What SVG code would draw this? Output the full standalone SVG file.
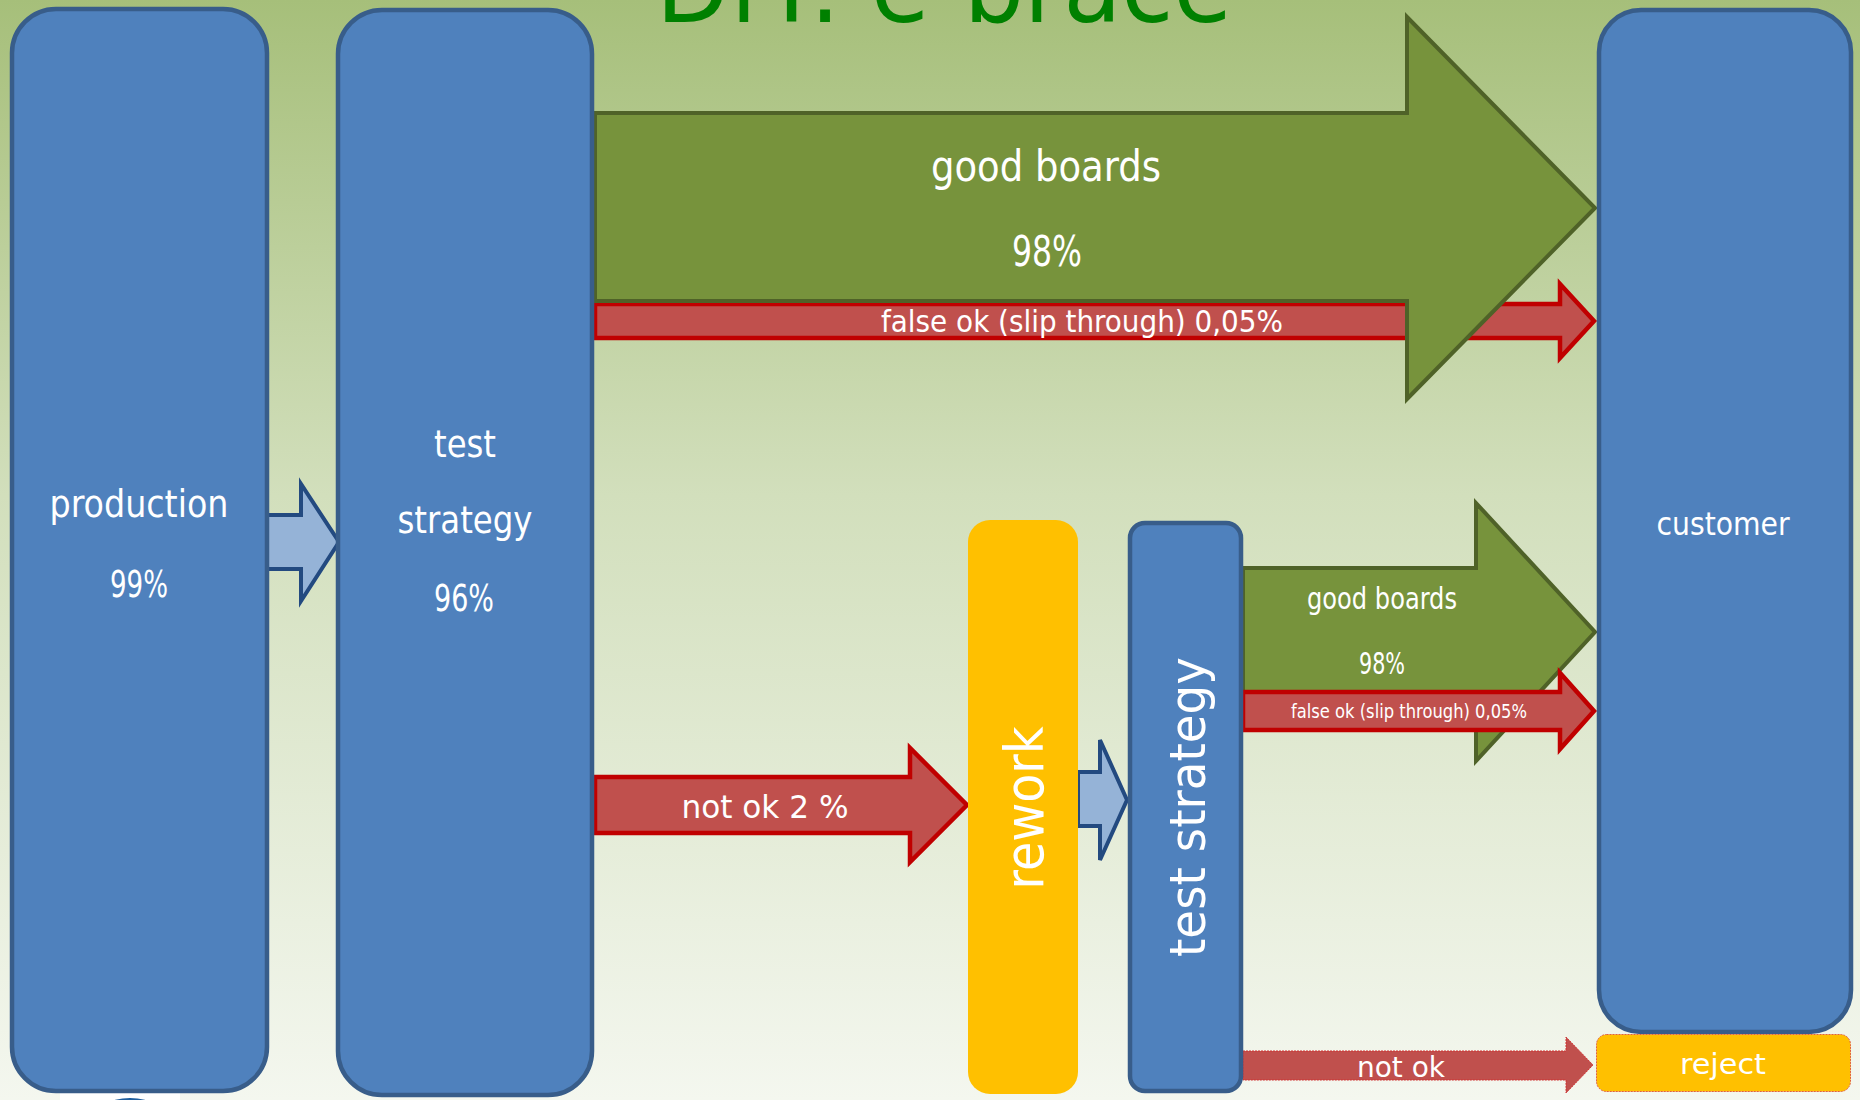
<svg xmlns="http://www.w3.org/2000/svg" width="1860" height="1100" viewBox="0 0 1860 1100">
<defs>
<linearGradient id="bg" x1="0" y1="0" x2="0" y2="1">
<stop offset="0" stop-color="#a6bf7a"/>
<stop offset="0.45" stop-color="#d2dfbc"/>
<stop offset="1" stop-color="#f4f7ef"/>
</linearGradient>
<clipPath id="logoclip"><rect x="60" y="1093" width="120" height="7"/></clipPath>
</defs>
<style>
.box{fill:#4f81bd;stroke:#385d8a;stroke-width:4.5}
.t{font-family:"DejaVu Sans Condensed","DejaVu Sans",sans-serif;font-stretch:condensed;fill:#ffffff;text-anchor:middle}
.green{fill:#77933c;stroke:#4f6228;stroke-width:4;stroke-linejoin:miter}
.red{fill:#c0504d;stroke:#c00000;stroke-width:4.5;stroke-linejoin:miter}
.redthin{fill:#c0504d;stroke:#d03030;stroke-width:1;stroke-dasharray:2 1}
.blue{fill:#95b3d7;stroke:#234a80;stroke-width:4;stroke-linejoin:miter}
</style>
<rect x="0" y="0" width="1860" height="1100" fill="url(#bg)"/>
<text x="944" y="22" font-family="DejaVu Sans Condensed, DejaVu Sans, sans-serif" font-stretch="condensed" font-size="100" fill="#008000" text-anchor="middle" textLength="576" lengthAdjust="spacingAndGlyphs">DfT: e-brace</text>
<g id="logo" clip-path="url(#logoclip)">
<rect x="60" y="1093" width="120" height="7" fill="#ffffff"/>
<ellipse cx="130" cy="1122" rx="38" ry="24" fill="#1f5f9f"/>
</g>

<g id="connectors">
<path id="c-prod-test" class="blue" d="M265,515 L301,515 L301,484 L339,542 L301,601 L301,569 L265,569 Z"/>
<path id="c-falseok1" class="red" d="M595,304 L1560,304 L1560,284 L1594,321 L1560,358 L1560,338 L595,338 Z"/>
<path id="c-good1" class="green" d="M595,113 L1407,113 L1407,17 L1595,208 L1407,399 L1407,301 L595,301 Z"/>
<text class="t" x="1046" y="181" font-size="42" textLength="230" lengthAdjust="spacingAndGlyphs">good boards</text>
<text class="t" x="1047" y="266" font-size="42" textLength="70" lengthAdjust="spacingAndGlyphs">98%</text>
<text class="t" x="1082" y="332" font-size="30" textLength="402" lengthAdjust="spacingAndGlyphs">false ok (slip through) 0,05%</text>
<path id="c-notok2" class="red" d="M595,777 L910,777 L910,748 L967,805 L910,862 L910,833 L595,833 Z"/>
<text class="t" x="765" y="818" font-size="32" textLength="167" lengthAdjust="spacingAndGlyphs">not ok 2 %</text>
<path id="c-rework-test" class="blue" d="M1078,772 L1100,772 L1100,740 L1127,800 L1100,860 L1100,826 L1078,826 Z"/>
<path id="c-good2" class="green" d="M1243,568 L1476,568 L1476,503 L1595,632 L1476,761 L1476,696 L1243,696 Z"/>
<text class="t" x="1382" y="609" font-size="30" textLength="150" lengthAdjust="spacingAndGlyphs">good boards</text>
<text class="t" x="1382" y="674" font-size="30" textLength="46" lengthAdjust="spacingAndGlyphs">98%</text>
<path id="c-falseok2" class="red" d="M1243,692 L1560,692 L1560,673 L1594,711 L1560,749 L1560,730 L1243,730 Z"/>
<text class="t" x="1409" y="718" font-size="20" textLength="236" lengthAdjust="spacingAndGlyphs">false ok (slip through) 0,05%</text>
<path id="c-notok" class="redthin" d="M1243,1051 L1566,1051 L1566,1037 L1593,1065 L1566,1093 L1566,1080 L1243,1080 Z"/>
<text class="t" x="1401" y="1077" font-size="28" textLength="88" lengthAdjust="spacingAndGlyphs">not ok</text>
</g>

<g id="production">
<rect class="box" x="12" y="9" width="255" height="1082" rx="44"/>
<text class="t" x="139" y="517" font-size="37" textLength="179" lengthAdjust="spacingAndGlyphs">production</text>
<text class="t" x="139" y="597" font-size="37" textLength="58" lengthAdjust="spacingAndGlyphs">99%</text>
</g>
<g id="test-strategy-1">
<rect class="box" x="338" y="10" width="254" height="1085" rx="44"/>
<text class="t" x="465" y="457" font-size="37" textLength="62" lengthAdjust="spacingAndGlyphs">test</text>
<text class="t" x="465" y="533" font-size="37" textLength="135" lengthAdjust="spacingAndGlyphs">strategy</text>
<text class="t" x="464" y="611" font-size="37" textLength="60" lengthAdjust="spacingAndGlyphs">96%</text>
</g>
<g id="rework">
<rect x="968" y="520" width="110" height="574" rx="22" fill="#ffc000"/>
<text class="t" transform="translate(1043,808) rotate(-90)" x="0" y="0" font-size="53" textLength="163" lengthAdjust="spacingAndGlyphs">rework</text>
</g>
<g id="test-strategy-2">
<rect class="box" x="1130" y="523" width="111" height="568" rx="15"/>
<text class="t" transform="translate(1205,807) rotate(-90)" x="0" y="0" font-size="50" textLength="300" lengthAdjust="spacingAndGlyphs">test strategy</text>
</g>
<g id="customer">
<rect class="box" x="1599" y="10" width="252" height="1022" rx="42"/>
<text class="t" x="1723" y="535" font-size="32" textLength="133" lengthAdjust="spacingAndGlyphs">customer</text>
</g>
<g id="reject">
<rect x="1596.5" y="1034.5" width="254" height="57" rx="10" fill="#ffc000" stroke="#e06040" stroke-width="1" stroke-dasharray="2 1"/>
<text class="t" x="1723" y="1074" font-size="28" textLength="86" lengthAdjust="spacingAndGlyphs">reject</text>
</g>
</svg>
